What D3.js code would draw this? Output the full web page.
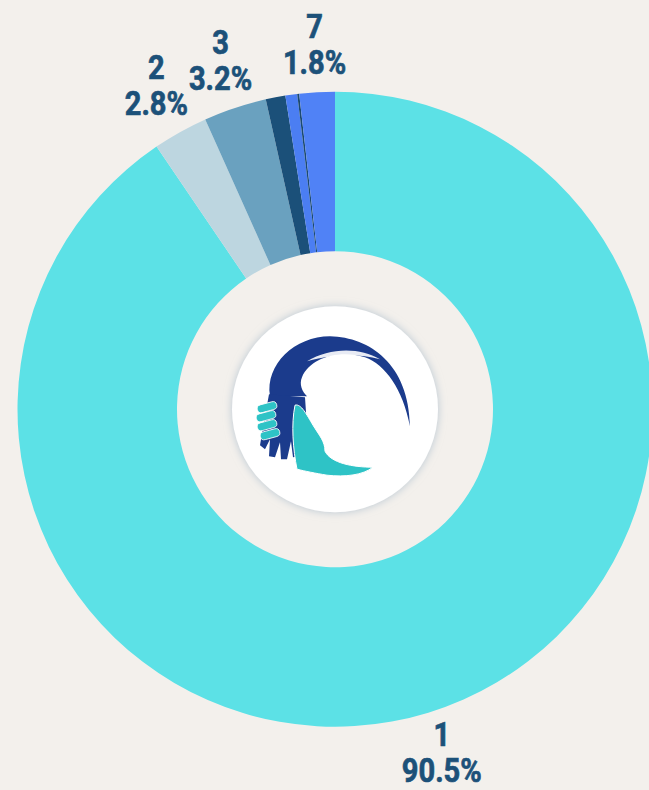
<!DOCTYPE html>
<html>
<head>
<meta charset="utf-8">
<script src="https://cdn.jsdelivr.net/npm/d3@7"></script>
<style>
  html, body { margin: 0; padding: 0; background: #f3f0ec; }
  svg { display: block; }
</style>
</head>
<body>
<svg id="chart" width="649" height="790"></svg>
<script>
const categories = ["1", "2", "3", "4", "5", "6", "7"];
const values = [90.5, 2.8, 3.2, 1.0, 0.6, 0.1, 1.8];
const labelTexts = ["90.5%", "2.8%", "3.2%", "1.0%", "0.6%", "0.1%", "1.8%"];
const colors = ["#5ce1e6", "#bdd6e0", "#6aa1bf", "#1b5079", "#4b7ef2", "#1b4a72", "#5082f6"];

const W = 649, H = 790;
const cx = 335, cy = 409.2;
const outerR = 317.5, innerR = 158;

const svg = d3.select("#chart");
svg.append("rect").attr("width", W).attr("height", H).attr("fill", "#f3f0ec");

const defs = svg.append("defs");
const f = defs.append("filter").attr("id", "glow").attr("x", "-30%").attr("y", "-30%").attr("width", "160%").attr("height", "160%");
f.append("feDropShadow").attr("dx", 0).attr("dy", 0).attr("stdDeviation", 4).attr("flood-color", "#a9bccb").attr("flood-opacity", 0.8);

const g = svg.append("g").attr("transform", `translate(${cx},${cy})`);

const pie = d3.pie().sort(null).value(d => d)(values);
const arc = d3.arc().innerRadius(innerR).outerRadius(outerR);

g.selectAll("path.slice").data(pie).join("path")
  .attr("class", "slice")
  .attr("d", arc)
  .attr("fill", (d, i) => colors[i]);

// labels
const fontSize = 33, sx = 0.88, lineGap = 36, offset = 9, yShift = -4;
const lab = g.selectAll("g.lab").data(pie.filter(d => d.data >= 1.5)).join("g").attr("class", "lab");
lab.each(function(d) {
  const i = d.index;
  const el = d3.select(this);
  const inner = el.append("g");
  const t1 = inner.append("text").text(categories[i]);
  const t2 = inner.append("text").text(labelTexts[i]);
  inner.selectAll("text")
    .attr("text-anchor", "middle")
    .attr("font-family", "Roboto, 'Noto Sans', sans-serif")
    .attr("font-weight", 700)
    .attr("font-size", fontSize)
    .attr("fill", "#1c5179")
    .attr("stroke", "#1c5179")
    .attr("stroke-width", 0.7);
  const w = sx * Math.max(t1.node().getComputedTextLength(), t2.node().getComputedTextLength()) + 8;
  const hBox = 37 + fontSize;
  const hVis = lineGap + fontSize * 0.72;
  const a = (d.startAngle + d.endAngle) / 2;
  const s = Math.abs(Math.sin(a)), c = Math.abs(Math.cos(a));
  const ext = Math.min(s > 1e-6 ? (w / 2) / s : Infinity, c > 1e-6 ? (hBox / 2) / c : Infinity);
  const r = outerR + offset + ext;
  const x = r * Math.sin(a), y = -r * Math.cos(a) + yShift;
  inner.attr("transform", `translate(${x},${y - hVis / 2}) scale(${sx},1)`);
  t1.attr("x", 0).attr("y", fontSize * 0.72);
  t2.attr("x", 0).attr("y", fontSize * 0.72 + lineGap);
});

// center logo
const logo = g.append("g");
logo.append("circle").attr("r", 103).attr("fill", "#ffffff").attr("filter", "url(#glow)");
const navy = "#1b3b8c", teal = "#2ec3c6";
// navy swoosh crescent
logo.append("path").attr("fill", navy).attr("d",
  "M -65,-13 C -70,-45 -40,-73 -5,-73 C 35,-72 74,-45 75,17 C 68,-20 50,-45 30,-52 C 5,-60 -25,-52 -33,-32 C -36,-25 -33,-18 -28,-13 Z");
// navy hand
logo.append("path").attr("fill", navy).attr("d",
  "M -66,-15 L -30,-12 L -28,18 L -34,24 L -36,47 L -42,48 L -44,32 L -48,50 L -54,50 L -55,33 L -60,48 L -66,47 L -65,30 L -70,40 L -75,36 L -72,18 Z");
// teal fingers (left)
[[-78,-6],[-79,3],[-78,12],[-75,21]].forEach(([x, y]) => {
  logo.append("rect").attr("x", x).attr("y", y).attr("width", 20).attr("height", 8).attr("rx", 4)
    .attr("fill", teal).attr("stroke", "#ffffff").attr("stroke-width", 0.8)
    .attr("transform", `rotate(-15,${x + 10},${y + 4})`);
});
// teal hand (palm + thumb wave)
logo.append("path").attr("fill", teal).attr("stroke", "#ffffff").attr("stroke-width", 1).attr("d",
  "M -40,-4 C -34,-6 -28,6 -22,16 C -16,26 -10,32 -10,42 C -4,54 18,58 38,58 C 28,66 10,68 -8,66 C -20,64 -30,62 -38,60 C -42,40 -44,15 -40,-4 Z");
// white inner swoosh accent
logo.append("path").attr("fill", "#ffffff").attr("opacity", 0.9).attr("d",
  "M -28,-48 C -5,-62 25,-62 45,-50 C 22,-56 0,-55 -28,-48 Z");
</script>
</body>
</html>
